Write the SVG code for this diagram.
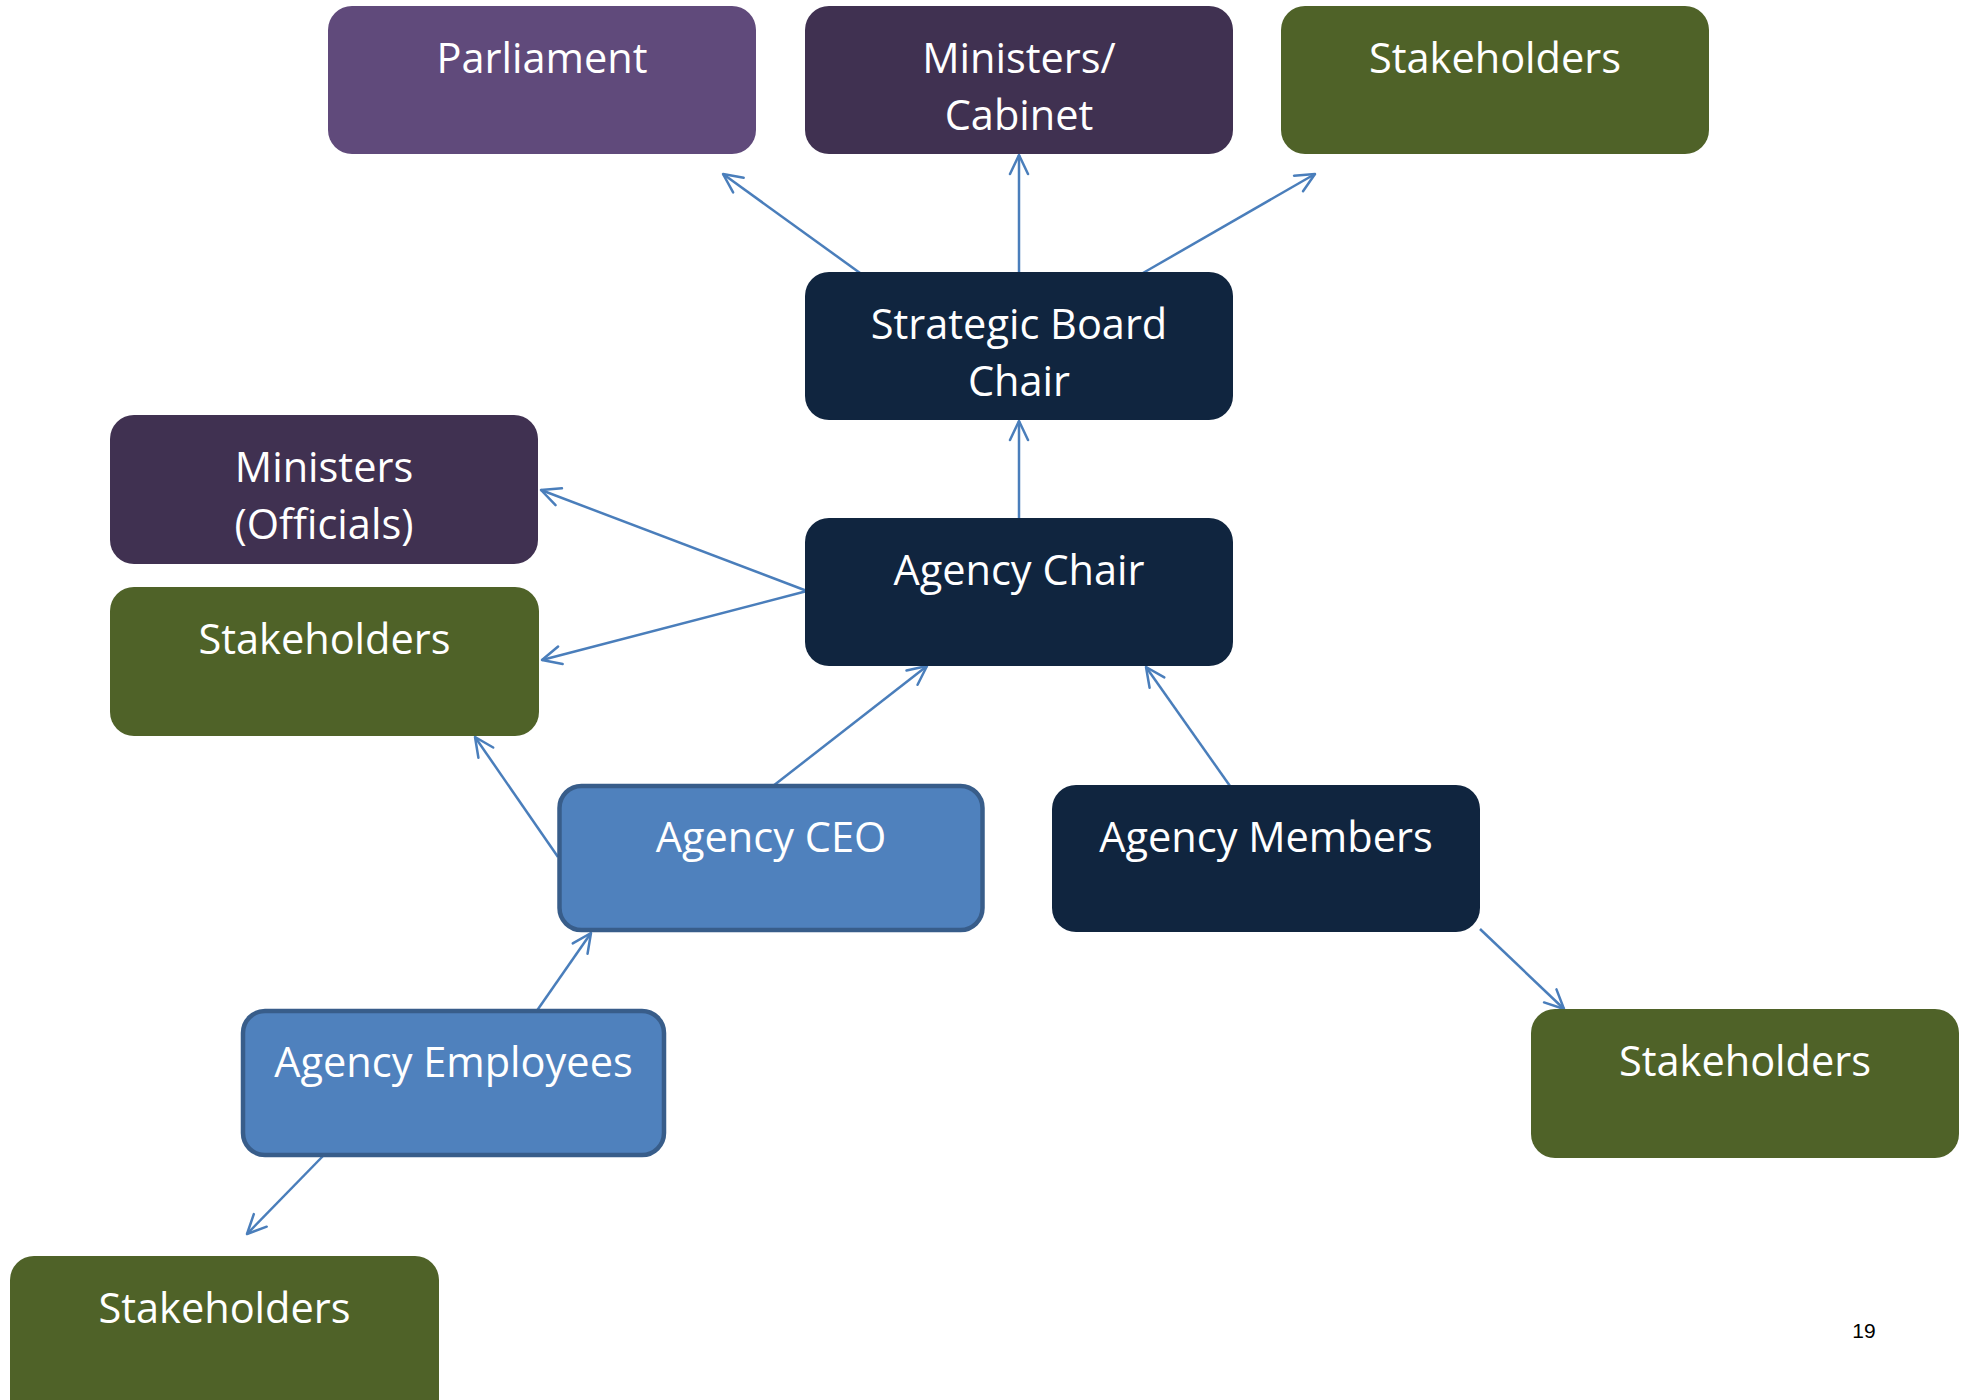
<svg xmlns="http://www.w3.org/2000/svg" width="1966" height="1400" viewBox="0 0 1966 1400">
  <style>
    .box { stroke: none; }
    .purple { fill: #604A7B; }
    .plum { fill: #403151; }
    .green { fill: #4F6228; }
    .navy { fill: #10253F; }
    .blue { fill: #4F81BD; stroke: #385D8A; stroke-width: 4.5; }
    .label { font-family: "Open Sans", "Noto Sans", sans-serif; font-size: 41.5px; fill: #FFFFFF; text-anchor: middle; }
    .link { fill: none; stroke: #4A7EBB; stroke-width: 2.5; marker-end: url(#openArrow); }
    .pageno { font-family: "Liberation Sans", Arial, sans-serif; font-size: 21px; fill: #000000; text-anchor: middle; }
  </style>
  <defs>
    <marker id="openArrow" markerUnits="userSpaceOnUse" markerWidth="30" markerHeight="30" viewBox="-25 -15 30 30" refX="0" refY="0" orient="auto" overflow="visible">
      <path d="M-19,-9 L0,0 L-19,9" fill="none" stroke="#4A7EBB" stroke-width="2.5" stroke-linecap="round" stroke-linejoin="round"/>
    </marker>
  </defs>

  <rect width="1966" height="1400" fill="#FFFFFF"/>

  <!-- connectors -->
  <g id="connectors">
    <line class="link" x1="860" y1="273" x2="723" y2="174"/>
    <line class="link" x1="1019" y1="273" x2="1019" y2="155"/>
    <line class="link" x1="1143" y1="273" x2="1315" y2="174"/>
    <line class="link" x1="1019" y1="519" x2="1019" y2="421"/>
    <line class="link" x1="807" y1="591" x2="541" y2="490"/>
    <line class="link" x1="807" y1="591" x2="542" y2="660"/>
    <line class="link" x1="773" y1="786" x2="927" y2="666"/>
    <line class="link" x1="1230" y1="786" x2="1146" y2="667"/>
    <line class="link" x1="558" y1="857" x2="475" y2="737"/>
    <line class="link" x1="536" y1="1012" x2="591" y2="933"/>
    <line class="link" x1="323" y1="1156" x2="247" y2="1234"/>
    <line class="link" x1="1480" y1="929" x2="1564" y2="1009"/>
  </g>

  <g id="parliament">
    <rect class="box purple" x="328" y="6" width="428" height="148" rx="24"/>
    <text class="label" x="542" y="73">Parliament</text>
  </g>

  <g id="ministers-cabinet">
    <rect class="box plum" x="805" y="6" width="428" height="148" rx="24"/>
    <text class="label" x="1019" y="73">Ministers/</text>
    <text class="label" x="1019" y="130">Cabinet</text>
  </g>

  <g id="stakeholders-top">
    <rect class="box green" x="1281" y="6" width="428" height="148" rx="24"/>
    <text class="label" x="1495" y="73">Stakeholders</text>
  </g>

  <g id="strategic-board-chair">
    <rect class="box navy" x="805" y="272" width="428" height="148" rx="24"/>
    <text class="label" x="1019" y="339">Strategic Board</text>
    <text class="label" x="1019" y="396">Chair</text>
  </g>

  <g id="ministers-officials">
    <rect class="box plum" x="110" y="415" width="428" height="149" rx="24"/>
    <text class="label" x="324" y="482">Ministers</text>
    <text class="label" x="324" y="539">(Officials)</text>
  </g>

  <g id="stakeholders-left">
    <rect class="box green" x="110" y="587" width="429" height="149" rx="24"/>
    <text class="label" x="324.5" y="654">Stakeholders</text>
  </g>

  <g id="agency-chair">
    <rect class="box navy" x="805" y="518" width="428" height="148" rx="24"/>
    <text class="label" x="1019" y="585">Agency Chair</text>
  </g>

  <g id="agency-ceo">
    <rect class="blue" x="559.5" y="786" width="423" height="144" rx="22"/>
    <text class="label" x="771" y="852">Agency CEO</text>
  </g>

  <g id="agency-members">
    <rect class="box navy" x="1052" y="785" width="428" height="147" rx="24"/>
    <text class="label" x="1266" y="852">Agency Members</text>
  </g>

  <g id="agency-employees">
    <rect class="blue" x="243" y="1011" width="421" height="144" rx="22"/>
    <text class="label" x="453.5" y="1077">Agency Employees</text>
  </g>

  <g id="stakeholders-right">
    <rect class="box green" x="1531" y="1009" width="428" height="149" rx="24"/>
    <text class="label" x="1745" y="1076">Stakeholders</text>
  </g>

  <g id="stakeholders-bottom">
    <rect class="box green" x="10" y="1256" width="429" height="170" rx="24"/>
    <text class="label" x="224.5" y="1323">Stakeholders</text>
  </g>

  <text class="pageno" x="1864" y="1338">19</text>
</svg>
